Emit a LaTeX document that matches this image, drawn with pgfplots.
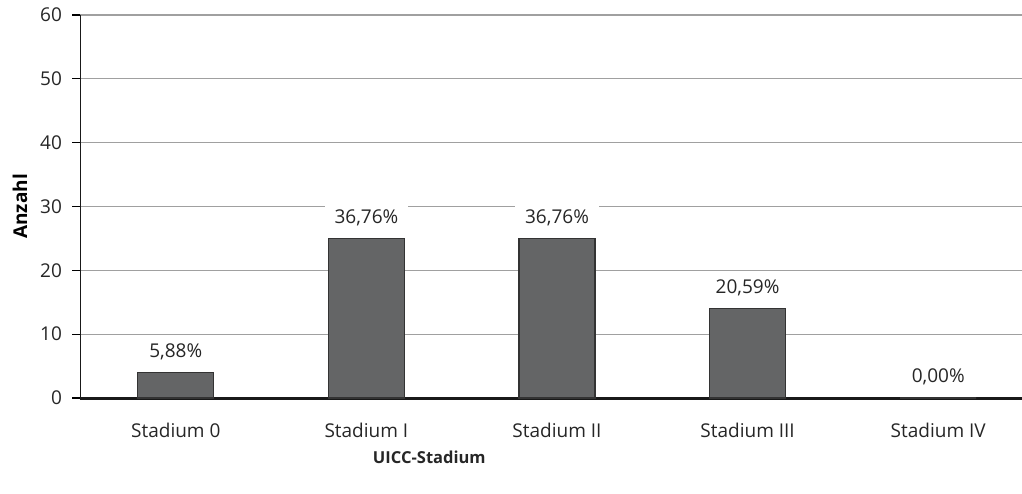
\documentclass[border=0pt]{standalone}
\usepackage{pgfplots}
\pgfplotsset{compat=1.18}
\usepackage{fontspec}
\setmainfont{Open Sans}
\definecolor{barfill}{HTML}{646566}
\definecolor{gridc}{HTML}{A0A0A0}
\begin{document}
\fontsize{19pt}{22pt}\selectfont
\begin{tikzpicture}
\begin{axis}[
  at={(80.5pt,95pt)}, anchor=south west,
  scale only axis,
  width=953pt, height=383pt,
  xmin=-0.5, xmax=4.5,
  ymin=0, ymax=60,
  ytick={0,10,...,60},
  xtick={0,1,2,3,4},
  xticklabels={Stadium 0,Stadium I,Stadium II,Stadium III,Stadium IV},
  /pgf/number format/assume math mode=true,
  ticklabel style={font=\fontsize{19pt}{22pt}\selectfont, text=black!85},
  ymajorgrids,
  grid style={gridc, line width=1.3pt},
  axis x line*=bottom,
  axis y line*=left,
  x axis line style={line width=3pt, black!90, -},
  y axis line style={line width=1.8pt, black!90, -},
  ytick style={line width=1.3pt, black},
  major tick length=8pt,
  tick align=outside,
  xtick style={draw=none},
  xticklabel style={yshift=-11pt},
  yticklabel style={xshift=-4pt},
  ylabel={\textbf{Anzahl}},
  ylabel style={font=\fontsize{16pt}{19pt}\selectfont, at={(ticklabel* cs:0.5)}, xshift=-10pt},
  ylabel near ticks,
  ybar, bar width=76pt,
  point meta=explicit symbolic,
  nodes near coords,
  every node near coord/.style={anchor=center, yshift=21pt, fill=white, inner xsep=10pt, inner ysep=5pt, font=\fontsize{19pt}{22pt}\selectfont, text=black!85},
  clip=false,
]
\addplot[fill=barfill, draw=black!80, line width=1.2pt] coordinates {
  (0,4) [5,88\%]
  (1,25) [36,76\%]
  (2,25) [36,76\%]
  (3,14) [20,59\%]
  (4,0) [0,00\%]
};
\node[font=\fontsize{16.5pt}{19pt}\selectfont\bfseries, text=black!85] at (axis cs:1.33,0) [yshift=-59pt] {UICC-Stadium};
\end{axis}
\pgfresetboundingbox
\path (0,0) rectangle (1022pt,493pt);
\end{tikzpicture}
\end{document}
